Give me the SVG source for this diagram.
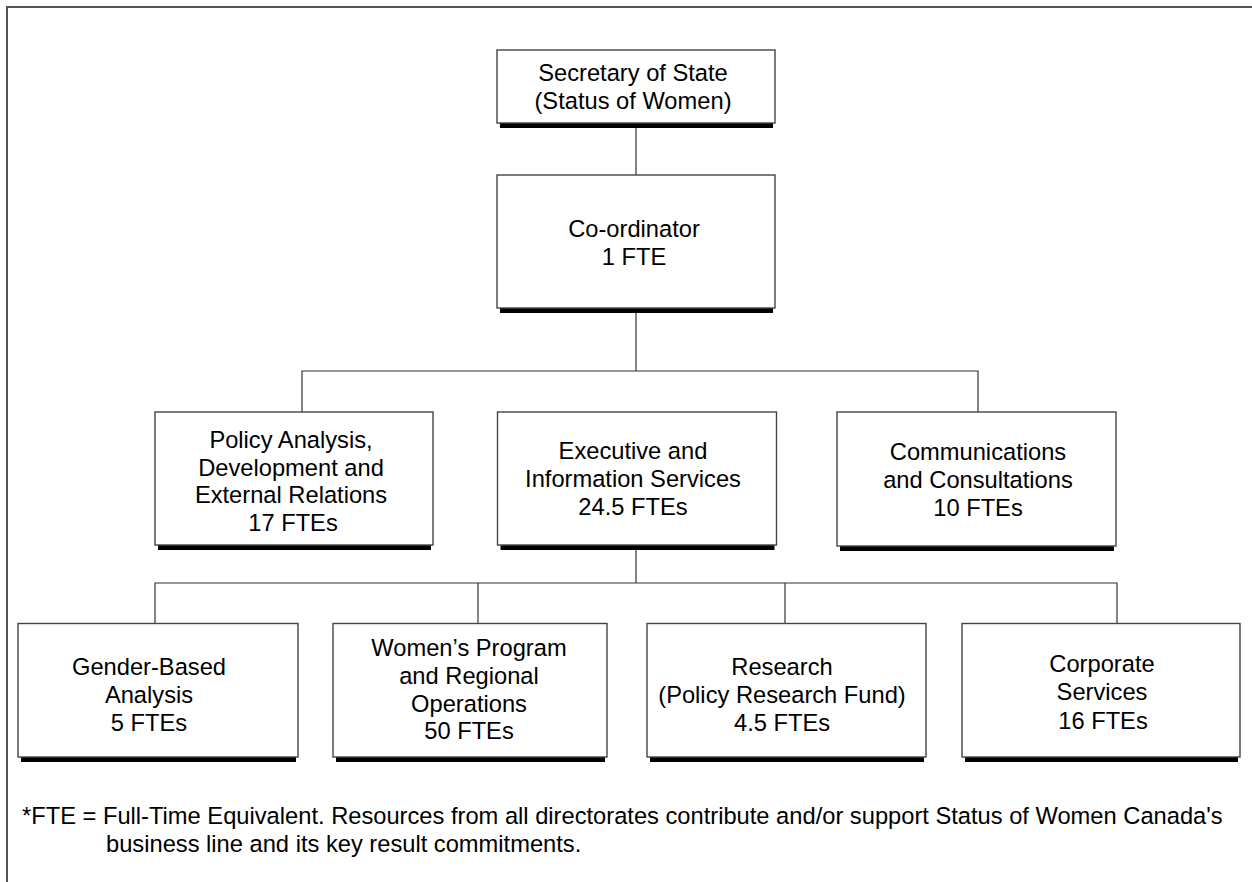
<svg xmlns="http://www.w3.org/2000/svg" width="1252" height="882" viewBox="0 0 1252 882">
<style>
.box{fill:#fff;stroke:#444;stroke-width:1.4}
.sh{fill:#000}
.t{font-family:"Liberation Sans",Arial,sans-serif;font-size:23.7px;fill:#000;text-anchor:middle}
.f{font-family:"Liberation Sans",Arial,sans-serif;font-size:23.7px;fill:#000}
.c{fill:none;stroke:#333;stroke-width:1.2}
</style>
<rect width="1252" height="882" fill="#fff"/>
<path d="M7,882 V7 H1252" fill="none" stroke="#555" stroke-width="2"/>
<g id="connectors">
<path class="c" d="M636,128 V175"/>
<path class="c" d="M636,313 V371"/>
<path class="c" d="M302,412 V371 H978 V412"/>
<path class="c" d="M636,550 V583"/>
<path class="c" d="M155,623.5 V583 H1117 V623.5"/>
<path class="c" d="M478,583 V623.5"/>
<path class="c" d="M785,583 V623.5"/>
</g>
<g id="n-secretary">
<rect class="sh" x="500" y="123" width="273" height="5"/>
<rect class="box" x="497" y="50" width="278" height="73"/>
<text class="t" x="633" y="81">Secretary of State</text>
<text class="t" x="633" y="109">(Status of Women)</text>
</g>
<g id="n-coordinator">
<rect class="sh" x="500" y="308" width="273" height="5"/>
<rect class="box" x="497" y="175" width="278" height="133"/>
<text class="t" x="634" y="237">Co-ordinator</text>
<text class="t" x="634" y="265">1 FTE</text>
</g>
<g id="n-policy">
<rect class="sh" x="158" y="545" width="273" height="5"/>
<rect class="box" x="155" y="412" width="278" height="133"/>
<text class="t" x="291" y="448">Policy Analysis,</text>
<text class="t" x="291" y="476">Development and</text>
<text class="t" x="291" y="503">External Relations</text>
<text class="t" x="293" y="531">17 FTEs</text>
</g>
<g id="n-executive">
<rect class="sh" x="500.5" y="545" width="274" height="5"/>
<rect class="box" x="497.5" y="412" width="279" height="133"/>
<text class="t" x="633" y="459">Executive and</text>
<text class="t" x="633" y="487">Information Services</text>
<text class="t" x="633" y="515">24.5 FTEs</text>
</g>
<g id="n-communications">
<rect class="sh" x="840" y="546" width="274" height="5"/>
<rect class="box" x="837" y="412" width="279" height="134"/>
<text class="t" x="978" y="460">Communications</text>
<text class="t" x="978" y="488">and Consultations</text>
<text class="t" x="978" y="516">10 FTEs</text>
</g>
<g id="n-gender">
<rect class="sh" x="21" y="757" width="275" height="5"/>
<rect class="box" x="18" y="623.5" width="280" height="133.5"/>
<text class="t" x="149" y="675">Gender-Based</text>
<text class="t" x="149" y="703">Analysis</text>
<text class="t" x="149" y="731">5 FTEs</text>
</g>
<g id="n-womens">
<rect class="sh" x="336" y="757" width="269" height="5"/>
<rect class="box" x="333" y="623.5" width="274" height="133.5"/>
<text class="t" x="469" y="656">Women’s Program</text>
<text class="t" x="469" y="684">and Regional</text>
<text class="t" x="469" y="712">Operations</text>
<text class="t" x="469" y="739">50 FTEs</text>
</g>
<g id="n-research">
<rect class="sh" x="650" y="757" width="274" height="5"/>
<rect class="box" x="647" y="623.5" width="279" height="133.5"/>
<text class="t" x="782" y="675">Research</text>
<text class="t" x="782" y="703">(Policy Research Fund)</text>
<text class="t" x="782" y="731">4.5 FTEs</text>
</g>
<g id="n-corporate">
<rect class="sh" x="965" y="757" width="273" height="5"/>
<rect class="box" x="962" y="623.5" width="278" height="133.5"/>
<text class="t" x="1102" y="672">Corporate</text>
<text class="t" x="1102" y="700">Services</text>
<text class="t" x="1103" y="729">16 FTEs</text>
</g>
<g id="footnote">
<text class="f" x="22" y="824">*FTE = Full-Time Equivalent. Resources from all directorates contribute and/or support Status of Women Canada's</text>
<text class="f" x="106" y="852">business line and its key result commitments.</text>
</g>
</svg>
